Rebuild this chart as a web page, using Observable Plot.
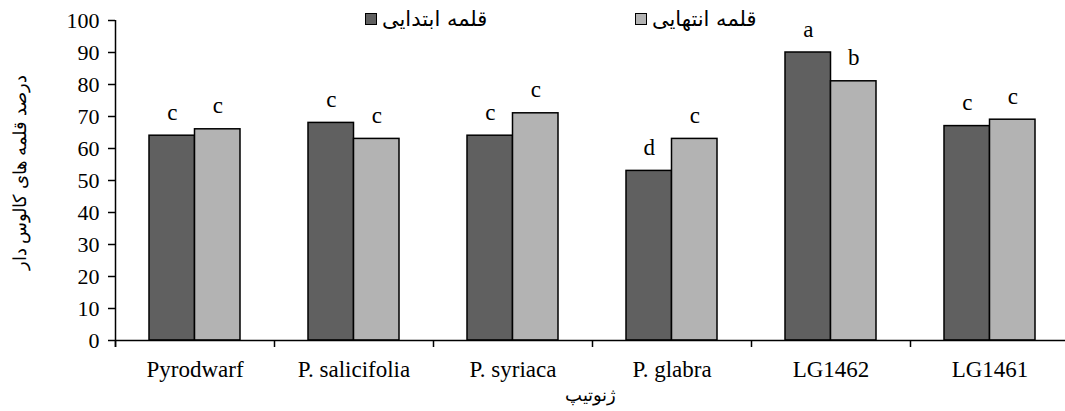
<!DOCTYPE html>
<html><head><meta charset="utf-8">
<script src="https://cdn.jsdelivr.net/npm/d3@7"></script>
<script src="https://cdn.jsdelivr.net/npm/@observablehq/plot@0.6"></script>
<style>
html,body{margin:0;padding:0;background:#fff;overflow:hidden;}
#wrap{position:relative;width:1065px;height:411px;}
#wrap svg{position:absolute;left:0;top:0;}
#wrap svg text{font-family:'Times New Roman','Liberation Serif',Tinos,Times,serif;}
#wrap svg g[aria-label="fa-label"] text{font-family:'DejaVu Sans', sans-serif;}
.legend{position:absolute;top:7px;display:flex;align-items:center;font-family:'DejaVu Sans', sans-serif;font-size:21px;color:#000;line-height:24px;}
.sw{width:10px;height:10px;border:1.5px solid #000;margin-right:5px;}
</style></head><body><div id="wrap"></div>
<script>
const genotypes = ["Pyrodwarf", "P. salicifolia", "P. syriaca", "P. glabra", "LG1462", "LG1461"];
const seriesNames = ["قلمه ابتدایی", "قلمه انتهایی"];
const initialValues = [64, 68, 64, 53, 90, 67];
const finalValues = [66, 63, 71, 63, 81, 69];
const initialLetters = ["c", "c", "c", "d", "a", "c"];
const finalLetters = ["c", "c", "c", "c", "b", "c"];
const yTicks = [0, 10, 20, 30, 40, 50, 60, 70, 80, 90, 100];
const yLabel = "درصد قلمه های کالوس دار";
const xLabel = "ژنوتیپ";
const colors = ["#606060", "#b3b3b3"];

const initialRows = genotypes.map((g, i) => ({genotype: g, value: initialValues[i], letter: initialLetters[i]}));
const finalRows = genotypes.map((g, i) => ({genotype: g, value: finalValues[i], letter: finalLetters[i]}));

const half = 79.5;

const chart = Plot.plot({
  width: 1065,
  height: 411,
  marginLeft: 115,
  marginRight: 0,
  marginTop: 20,
  marginBottom: 71,
  style: {background: "#fff", color: "#000", overflow: "visible"},
  x: {domain: genotypes, range: [115, 1069], padding: 0},
  y: {domain: [0, 100], range: [340, 20]},
  marks: [
    Plot.barY(initialRows, {x: "genotype", y: "value", fill: colors[0], stroke: "#000", strokeWidth: 1.5, insetLeft: 34, insetRight: 79.5}),
    Plot.barY(finalRows, {x: "genotype", y: "value", fill: colors[1], stroke: "#000", strokeWidth: 1.5, insetLeft: 79.5, insetRight: 34}),
    Plot.text(initialRows, {x: "genotype", y: "value", text: "letter", dx: -22.75, dy: -16, lineAnchor: "bottom", fontSize: 23, fill: "#000"}),
    Plot.text(finalRows, {x: "genotype", y: "value", text: "letter", dx: 22.75, dy: -16, lineAnchor: "bottom", fontSize: 23, fill: "#000"}),
    Plot.ruleY([0], {stroke: "#000", strokeWidth: 1.5}),
    Plot.ruleX([genotypes[0]], {x: d => d, y1: 100, y2: 0, insetBottom: -7, dx: -half, stroke: "#000", strokeWidth: 1.5}),
    Plot.ruleX(genotypes, {x: d => d, y1: 0, y2: 0, insetBottom: -7, dx: -half, stroke: "#000", strokeWidth: 1.5}),
    Plot.axisY({ticks: yTicks, tickSize: 7, tickPadding: 9, tickFormat: d => String(d), fontSize: 22, strokeWidth: 1.5, label: null}),
    Plot.axisX({tickSize: 0, tickPadding: 20, fontSize: 23, label: null}),
    Plot.text([yLabel], {frameAnchor: "left", textAnchor: "middle", rotate: -90, dx: -95, dy: -8, fontSize: 18, fill: "#000", ariaLabel: "fa-label"}),
    Plot.text([xLabel], {frameAnchor: "bottom", textAnchor: "middle", dy: 60, fontSize: 18, fill: "#000", ariaLabel: "fa-label"})
  ]
});
const wrap = document.getElementById("wrap");
wrap.appendChild(chart);

const legendLefts = [365, 635];
seriesNames.forEach((name, i) => {
  const item = document.createElement("div");
  item.className = "legend";
  item.style.left = legendLefts[i] + "px";
  const sw = document.createElement("div");
  sw.className = "sw";
  sw.style.background = colors[i];
  const label = document.createElement("span");
  label.textContent = name;
  item.appendChild(sw);
  item.appendChild(label);
  wrap.appendChild(item);
});
</script></body></html>
